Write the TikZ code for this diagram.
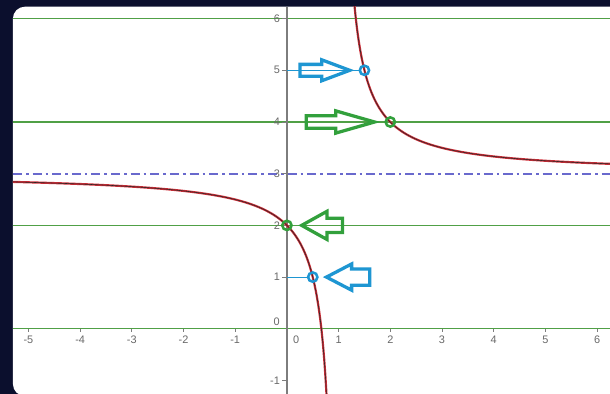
\documentclass[tikz,border=0pt]{standalone}
\usepackage{fontspec}
\setmainfont{Liberation Sans}
\usetikzlibrary{shapes.arrows, positioning}

\definecolor{bgnavy}{RGB}{11,15,45}
\definecolor{gridgreen}{RGB}{80,160,70}
\definecolor{asymblue}{RGB}{105,105,205}
\definecolor{markblue}{RGB}{30,150,210}
\definecolor{markgreen}{RGB}{50,160,60}
\definecolor{curvered}{RGB}{205,45,55}
\definecolor{axisgray}{RGB}{125,125,125}
\definecolor{labelgray}{RGB}{105,105,105}

\begin{document}
\begin{tikzpicture}[
    hline/.style={draw=gridgreen, line width=0.6pt},
    asymline/.style={draw=asymblue, line width=1.1pt, dash pattern=on 5pt off 2.2pt on 1.4pt off 2.2pt},
    curve/.style={draw=curvered, line width=1.2pt},
    curvecore/.style={draw=black!85, line width=0.3pt},
    dot/.style={circle, draw, line width=1.4pt, inner sep=0pt, minimum size=0.18cm},
    hint/.style={single arrow, draw, line width=1.8pt, inner xsep=0pt, outer sep=0pt, minimum width=0pt},
    ticklabel/.style={font=\fontsize{6}{7}\selectfont, text=labelgray, inner sep=0pt}
]

% Background and panel
\useasboundingbox (-5.55,-1.26) rectangle (6.25,6.36);
\fill[bgnavy] (-5.55,-1.26) rectangle (6.25,6.36);
\clip (-5.55,-1.26) rectangle (6.25,6.36);
\fill[white, rounded corners=0.23cm] (-5.30,-1.30) rectangle (6.8,6.23);
\clip (-5.30,-1.30) rectangle (6.25,6.23);

% Horizontal lines and asymptote
\foreach \y in {0,2,4,6}
    \draw[hline] (-5.30,\y) -- (6.25,\y);
\draw[asymline] (-5.30,3) -- (6.25,3);

% Y axis with ticks
\draw[axisgray, line width=1pt] (0,-1.3) -- (0,6.23);
\foreach \y in {-1,1,2,...,6}
    \draw[axisgray, line width=0.5pt] (-0.09,\y) -- (0,\y);
\foreach \x in {-5,...,-1,1,2,...,6}
    \draw[axisgray, line width=0.5pt] (\x,0) -- (\x,-0.06);

% Tick labels
\foreach \y in {-1,1,2,...,6}
    \node[ticklabel, anchor=east] at (-0.13,\y) {\y};
\node[ticklabel] at (-0.2,0.13) {0};
\foreach \x in {-5,...,-1,1,2,...,6}
    \node[ticklabel, anchor=north] at (\x,-0.14) {\x};
\node[ticklabel] at (0.18,-0.21) {0};

% Curve y = 3 + 1/(x-1)
\draw[curve] plot[domain=-5.4:0.77, samples=400] (\x,{3+1/(\x-1)});
\draw[curve] plot[domain=1.29:6.3, samples=300] (\x,{3+1/(\x-1)});
\draw[curvecore] plot[domain=-5.4:0.77, samples=400] (\x,{3+1/(\x-1)});
\draw[curvecore] plot[domain=1.29:6.3, samples=300] (\x,{3+1/(\x-1)});

% Marked points
\coordinate (y5) at (0,5);
\coordinate (y1) at (0,1);
\node[dot, draw=markblue] (p5) at (1.5,5) {};
\node[dot, draw=markgreen] (p4) at (2,4) {};
\node[dot, draw=markgreen] (p2) at (0,2) {};
\node[dot, draw=markblue] (p1) at (0.5,1) {};
\draw[markblue, line width=0.6pt] (y5) -- (p5);
\draw[markblue, line width=0.6pt] (y1) -- (p1);

% Hint arrows
\node[hint, draw=markblue, inner ysep=0.083cm, single arrow head extend=0.088cm,
    single arrow tip angle=41, minimum height=0.96cm, left=0.17cm of p5, anchor=tip] (a5) {};
\node[hint, draw=markgreen, inner ysep=0.09cm, single arrow head extend=0.094cm,
    single arrow tip angle=32, minimum height=1.32cm, left=0.19cm of p4, anchor=tip] (a4) {};
\node[hint, draw=markgreen, inner ysep=0.106cm, single arrow head extend=0.135cm,
    single arrow tip angle=58, minimum height=0.79cm, shape border rotate=180,
    right=0.17cm of p2, anchor=tip] (a2) {};
\node[hint, draw=markblue, inner ysep=0.126cm, single arrow head extend=0.096cm,
    single arrow tip angle=55, minimum height=0.84cm, shape border rotate=180,
    right=0.15cm of p1, anchor=tip] (a1) {};

\end{tikzpicture}
\end{document}
